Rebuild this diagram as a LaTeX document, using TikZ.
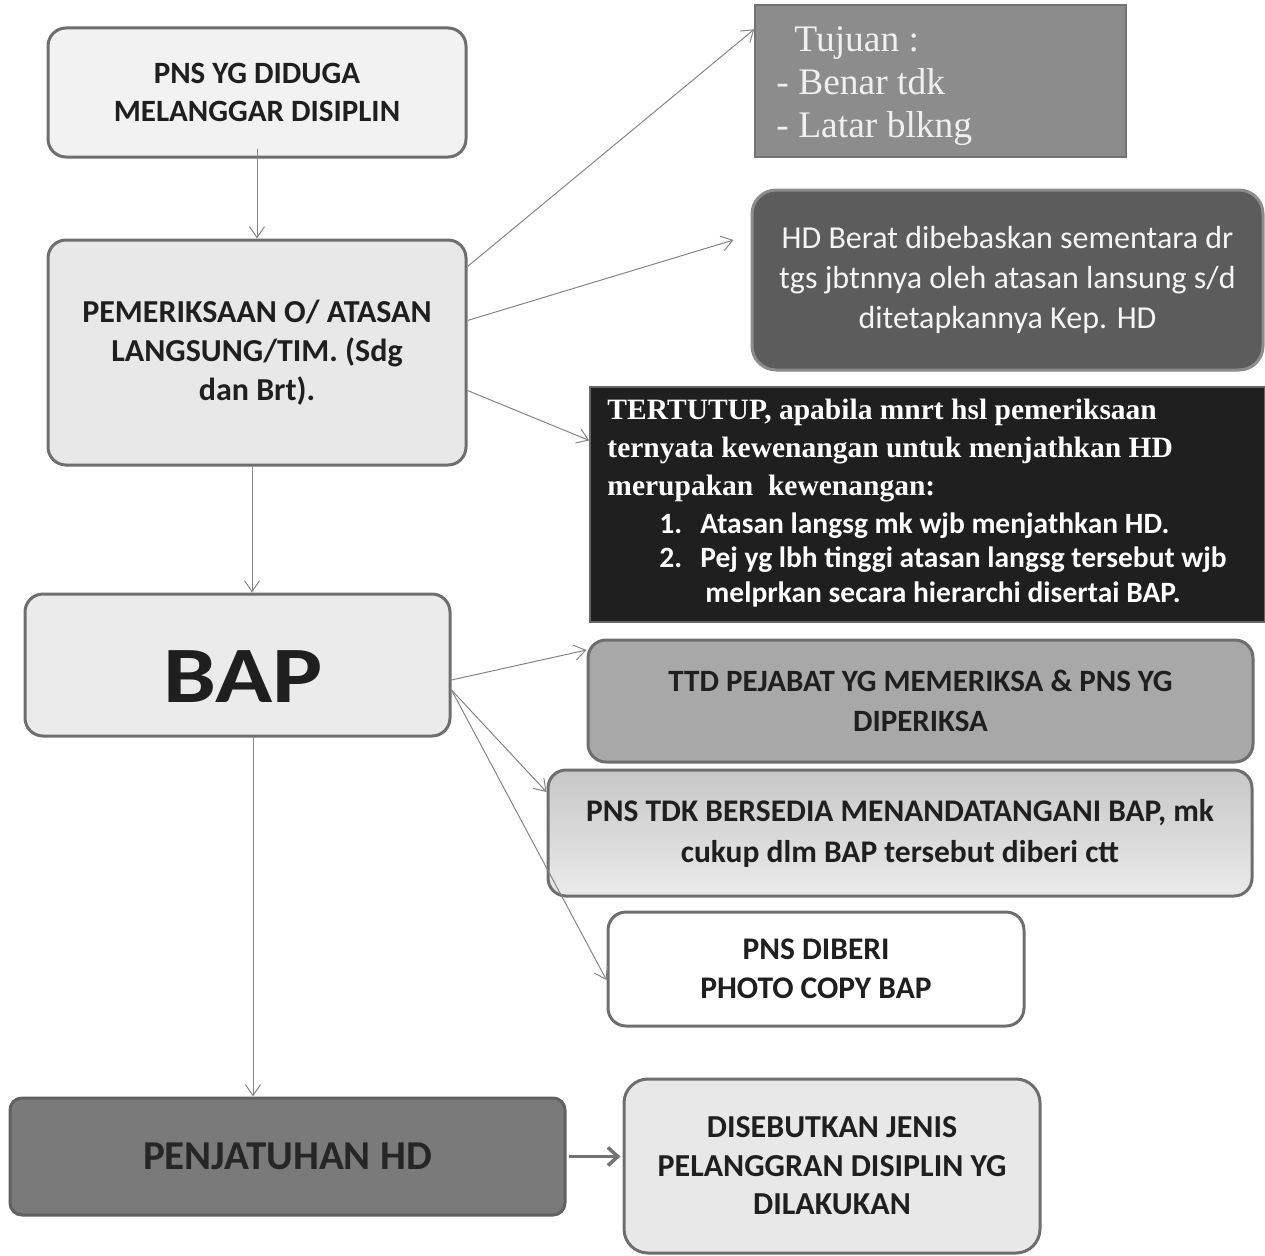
\documentclass[tikz,border=0pt]{standalone}
\usepackage{fontspec}
\setmainfont{Carlito}
\newfontfamily\tms{Liberation Serif}
\usetikzlibrary{arrows.meta}
\definecolor{bord}{HTML}{6E6E6E}
\definecolor{arr}{HTML}{858585}
\tikzset{
  box/.style={draw=bord, line width=3pt, rounded corners=18pt, align=center, inner sep=0pt, font=\bfseries\fontsize{31}{38}\selectfont, text=black!88},
  conn/.style={draw=arr, line width=1pt, -{Straight Barb[length=11pt,width=15pt]}},
}
\begin{document}
\begin{tikzpicture}[x=1pt,y=-1pt]
\useasboundingbox (0,0) rectangle (1265,1255);
% left column
\node[box, fill=black!5, minimum width=418, minimum height=129] (A) at (257,92.5) {PNS YG DIDUGA\\MELANGGAR DISIPLIN};
\node[box, fill=black!9, minimum width=418, minimum height=225, font=\bfseries\fontsize{32}{39}\selectfont] (B) at (257,352.5) {PEMERIKSAAN O/ ATASAN\\LANGSUNG/TIM. (Sdg\\dan Brt).};
\node[box, fill=black!8, minimum width=425, minimum height=142] (BAP) at (237.5,665) {};
\node[inner sep=0pt, text=black!88, font=\bfseries\fontsize{80}{90}\selectfont\addfontfeature{FakeStretch=1.18}] (BAPt) at (243,677) {BAP};
\node[box, fill=black!52, draw=black!62, rounded corners=12pt, minimum width=555, minimum height=117, font=\bfseries\fontsize{41}{46}\selectfont, text=black!85] (PEN) at (287.5,1156.5) {PENJATUHAN HD};
% right column
\node[draw=black!55, line width=1.5pt, fill=black!45, minimum width=371, minimum height=152, inner sep=0pt] (TUJ) at (940.5,81) {};
\node[anchor=north west, align=left, inner sep=0pt, text=black!6, font=\tms\fontsize{37.5}{43}\selectfont] (TUJt) at ([xshift=22,yshift=-22]TUJ.north west) {\hspace*{18pt}Tujuan :\\- Benar tdk\\- Latar blkng};
\node[box, fill=black!64, draw=black!45, rounded corners=24pt, minimum width=511, minimum height=180, font=\fontsize{32}{40}\selectfont, text=black!4] (HDB) at (1007.5,280) {HD Berat dibebaskan sementara dr\\tgs jbtnnya oleh atasan lansung s/d\\ditetapkannya Kep. HD};
\node[draw=black!60, line width=1.5pt, fill=black!88, minimum width=675, minimum height=235, inner sep=0pt] (TERT) at (927.5,504.5) {};
\node[anchor=north west, align=left, inner sep=0pt, text=white, font=\tms\bfseries\fontsize{29.5}{38}\selectfont] (TERTt) at ([xshift=18,yshift=-13]TERT.north west) {TERTUTUP, apabila mnrt hsl pemeriksaan\\ternyata kewenangan untuk menjathkan HD\\merupakan\ \ kewenangan:};
\node[anchor=north west, align=left, inner sep=0pt, text=white, font=\bfseries\fontsize{29.5}{34.5}\selectfont] (TERTl) at ([xshift=70,yshift=-126]TERT.north west) {1.\hspace{18pt}Atasan langsg mk wjb menjathkan HD.\\2.\hspace{18pt}Pej yg lbh tinggi atasan langsg tersebut wjb\\\hspace*{46pt}melprkan secara hierarchi disertai BAP.};
\node[box, fill=black!34, minimum width=665, minimum height=122, font=\bfseries\fontsize{31}{40}\selectfont] (TTD) at (920.5,701) {TTD PEJABAT YG MEMERIKSA \& PNS YG\\DIPERIKSA};
\node[box, top color=black!22, bottom color=black!8, minimum width=704, minimum height=126, font=\bfseries\fontsize{31.5}{41}\selectfont] (TDK) at (900,833) {PNS TDK BERSEDIA MENANDATANGANI BAP, mk\\cukup dlm BAP tersebut diberi ctt};
\node[box, fill=white, minimum width=416, minimum height=114, font=\bfseries\fontsize{31.5}{39}\selectfont] (DIB) at (816,969) {PNS DIBERI\\PHOTO COPY BAP};
\node[box, fill=black!9, rounded corners=24pt, minimum width=416, minimum height=174, font=\bfseries\fontsize{32}{38.5}\selectfont] (DIS) at (832,1166) {DISEBUTKAN JENIS\\PELANGGRAN DISIPLIN YG\\DILAKUKAN};
% connectors
\draw[conn] ([yshift=10]A.south) -- (B.north);
\draw[conn] ([yshift=-28]B.north east) -- ([yshift=-25]TUJ.north west);
\draw[conn] ([yshift=32]B.east) -- ([xshift=-17,yshift=40]HDB.west);
\draw[conn] ([yshift=-38]B.east) -- ([yshift=64]TERT.west);
\draw[conn] ([xshift=-5]B.south) -- ([xshift=14.5]BAP.north);
\draw[conn] ([yshift=-15]BAP.east) -- ([yshift=51]TTD.west);
\draw[conn] ([yshift=-25]BAP.east) -- ([yshift=41]TDK.west);
\draw[conn] ([yshift=-25]BAP.east) -- ([yshift=-11]DIB.west);
\draw[conn] ([xshift=15.5]BAP.south) -- ([xshift=-34.5]PEN.north);
\draw[draw=black!55, line width=3.5pt, -{Straight Barb[length=10pt,width=18pt]}] ([xshift=2]PEN.east) -- ([xshift=-2]PEN.east -| DIS.west);
\end{tikzpicture}
\end{document}
